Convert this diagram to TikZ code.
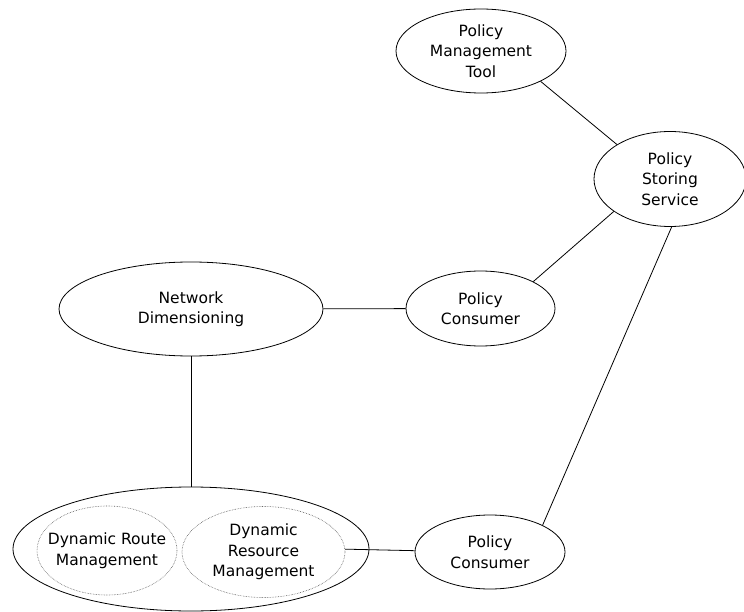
\documentclass[tikz,border=0pt]{standalone}
\usepackage{fontspec}
\setmainfont{DejaVu Sans}
\usetikzlibrary{shapes.geometric}
\begin{document}
\begin{tikzpicture}[x=1pt,y=-1pt,
  ell/.style={draw, ellipse, inner sep=0pt, line width=0.8pt, align=center,
    font=\fontsize{15.5}{20.5}\selectfont},
  dotell/.style={ell, inner xsep=-18pt, draw=gray!70!black, line width=0.6pt, densely dotted},
  conn/.style={line width=0.8pt}]
\useasboundingbox (0,0) rectangle (744,612);
\node[ell, minimum width=170pt, minimum height=84pt] (pmt) at (481,51) {Policy\\Management\\Tool};
\node[ell, minimum width=152pt, minimum height=95pt] (pss) at (670,179) {Policy\\Storing\\Service};
\node[ell, minimum width=264pt, minimum height=94pt] (nd) at (191,309) {Network\\Dimensioning};
\node[ell, minimum width=149pt, minimum height=75pt] (pct) at (480.5,308.5) {Policy\\Consumer};
\node[ell, minimum width=150pt, minimum height=74pt] (pcb) at (490,552) {Policy\\Consumer};
\node[ell, minimum width=356pt, minimum height=124pt] (big) at (191,549) {};
\node[dotell, minimum width=140pt, minimum height=89pt] (route) at (107,550.5) {Dynamic Route\\Management};
\node[dotell, minimum width=163pt, minimum height=91pt] (res) at (263.5,552) {Dynamic\\Resource\\Management};
\draw[conn] (pmt.-27) -- (pss.147.5);
\draw[conn] (pss.-150.6) -- (pct.27.6);
\draw[conn] (pss.-88.8) -- (pcb.27);
\draw[conn] (nd) -- (pct);
\draw[conn] (nd.south) -- (big.north);
\draw[conn] (res.2) -- (pcb.179);
\end{tikzpicture}
\end{document}
